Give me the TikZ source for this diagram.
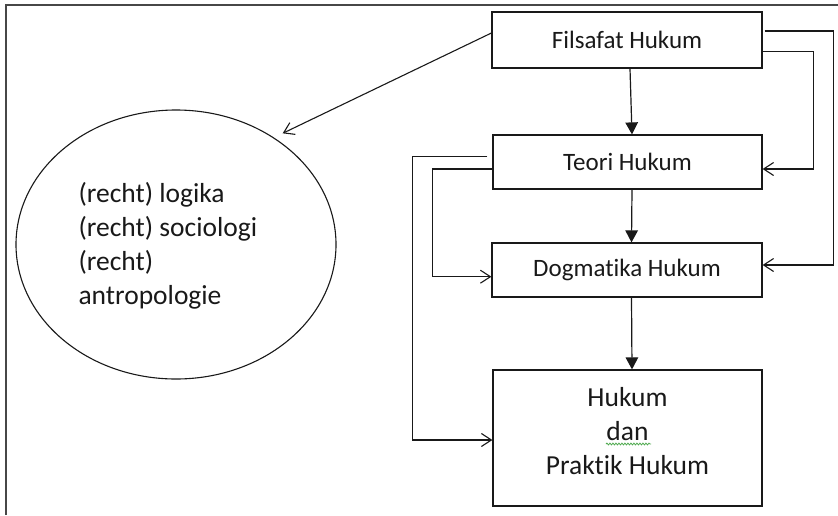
\documentclass[tikz,border=0pt]{standalone}
\usepackage{fontspec}
\setmainfont{Carlito}[Ligatures={NoCommon,NoRare,NoContextual}]
\usetikzlibrary{shapes.geometric,arrows.meta,decorations.pathmorphing}
\definecolor{ink}{RGB}{25,25,25}
\definecolor{spell}{RGB}{80,170,80}
% keep t and i apart (no ti ligature)
\newcommand{\tisep}{\kern0pt }
\begin{document}
\begin{tikzpicture}[x=1pt,y=-1pt,
  line width=1.1pt, draw=ink,
  box/.style={draw=ink, rectangle, line width=1.2pt, inner sep=0pt, font=\fontsize{25}{30}\selectfont, text=ink},
  flow/.style={draw=ink, line width=1.2pt, -{Triangle[length=12pt,width=12.5pt]}},
  link/.style={draw=ink, line width=1.1pt, -{Straight Barb[length=10pt,width=13pt,line width=1.1pt]}}]
\useasboundingbox (0,0) rectangle (838,515);
\fill[white] (0,0) rectangle (838,515);
% page frame
\draw[line width=1.3pt, draw=ink!80] (6,515) -- (6,5) -- (838,5);

% boxes
\node[box, minimum width=270pt, minimum height=56pt] (fil) at (627,40) {Filsafat Hukum};
\node[box, minimum width=269pt, minimum height=54pt] (teo) at (627.5,162) {Teori Hukum};
\node[box, minimum width=270pt, minimum height=54pt] (dog) at (627,270) {Dogmat\tisep ika Hukum};
\node[box, minimum width=269pt, minimum height=136pt] (huk) at (627.5,438) {};
\node[align=center, font=\fontsize{27.5}{34}\selectfont, text=ink, inner sep=0pt] (hukt) at (627.5,431) {Hukum\\dan\\Prakt\tisep ik Hukum};
\draw[spell, line width=0.8pt, decorate, decoration={snake, amplitude=0.9pt, segment length=3pt}] (606,444) -- (651,444);

% ellipse of neighbouring disciplines
\node[draw=ink, ellipse, line width=1.1pt, minimum width=320pt, minimum height=269pt, inner sep=0pt] (ell) at (176,244.5) {};
\node[anchor=west, align=left, font=\fontsize{27.5}{34}\selectfont, text=ink, inner sep=0pt] (ellt) at (78,246)
  {(recht) logika\\(recht) sociologi\\(recht)\\antropologie};

% main chain
\draw[flow] ([xshift=3pt]fil.south) -- ([xshift=4.5pt]teo.north);
\draw[flow] ([xshift=4.5pt]teo.south) -- ([xshift=4.5pt]dog.north);
\draw[flow] ([xshift=4.5pt]dog.south) -- ([xshift=4.5pt]huk.north);

% side links
\draw[link] ([yshift=7pt]fil.west) -- (282.7,133.3);
\draw[link] ([yshift=9pt,xshift=2pt]fil.east) -- ++(69,0) |- ([yshift=5pt]dog.east);
\draw[link] ([yshift=-11.7pt]fil.east) -- ++(51,0) |- ([yshift=-7pt]teo.east);
\draw[link] ([yshift=5.3pt,xshift=-5pt]teo.west) -- ++(-75,0) |- ([yshift=-2pt]huk.west);
\draw[link] ([yshift=-7pt]teo.west) -- ++(-60,0) |- ([yshift=-6.7pt]dog.west);
\end{tikzpicture}
\end{document}
